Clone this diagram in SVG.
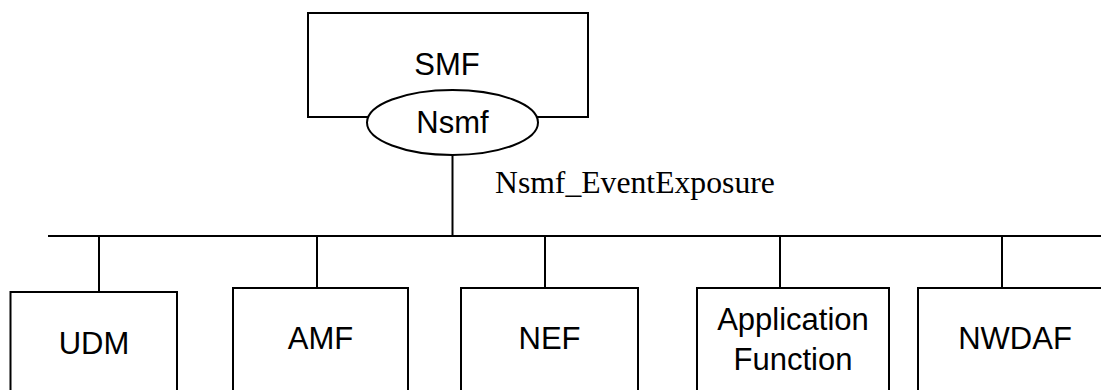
<svg xmlns="http://www.w3.org/2000/svg" width="1101" height="390" viewBox="0 0 1101 390">
<style>
.box{fill:#fff;stroke:#000;stroke-width:2}
.ln{stroke:#000;stroke-width:2;fill:none}
.t{font-family:"Liberation Sans",Arial,sans-serif;font-size:31px;fill:#000;text-anchor:middle}
.s{font-family:"Liberation Serif","Times New Roman",serif;font-size:31.7px;fill:#000}
</style>
<rect width="1101" height="390" fill="#fff"/>
<g id="connectors">
<line class="ln" x1="452.5" y1="155" x2="452.5" y2="236"/>
<line class="ln" x1="48" y1="236" x2="1101" y2="236"/>
<line class="ln" x1="99" y1="236" x2="99" y2="292"/>
<line class="ln" x1="317" y1="236" x2="317" y2="288"/>
<line class="ln" x1="545" y1="236" x2="545" y2="288"/>
<line class="ln" x1="780" y1="236" x2="780" y2="288"/>
<line class="ln" x1="1002" y1="236" x2="1002" y2="288"/>
<text class="s" x="495" y="193">Nsmf_EventExposure</text>
</g>
<g id="smf">
<rect class="box" x="308" y="13" width="280" height="104"/>
<text class="t" x="447" y="75">SMF</text>
</g>
<g id="nsmf">
<ellipse class="box" cx="452.5" cy="122.5" rx="85.5" ry="32.5"/>
<text class="t" x="452.5" y="133">Nsmf</text>
</g>
<g id="udm">
<rect class="box" x="10.5" y="292" width="166.5" height="120"/>
<text class="t" x="94" y="354">UDM</text>
</g>
<g id="amf">
<rect class="box" x="233" y="288" width="175" height="120"/>
<text class="t" x="320.5" y="349">AMF</text>
</g>
<g id="nef">
<rect class="box" x="461" y="288" width="177" height="120"/>
<text class="t" x="549.5" y="349">NEF</text>
</g>
<g id="af">
<rect class="box" x="697" y="288" width="192" height="120"/>
<text class="t" x="793" y="330">Application</text>
<text class="t" x="793" y="370">Function</text>
</g>
<g id="nwdaf">
<rect class="box" x="918" y="288" width="200" height="120"/>
<text class="t" x="1015" y="349">NWDAF</text>
</g>
</svg>
